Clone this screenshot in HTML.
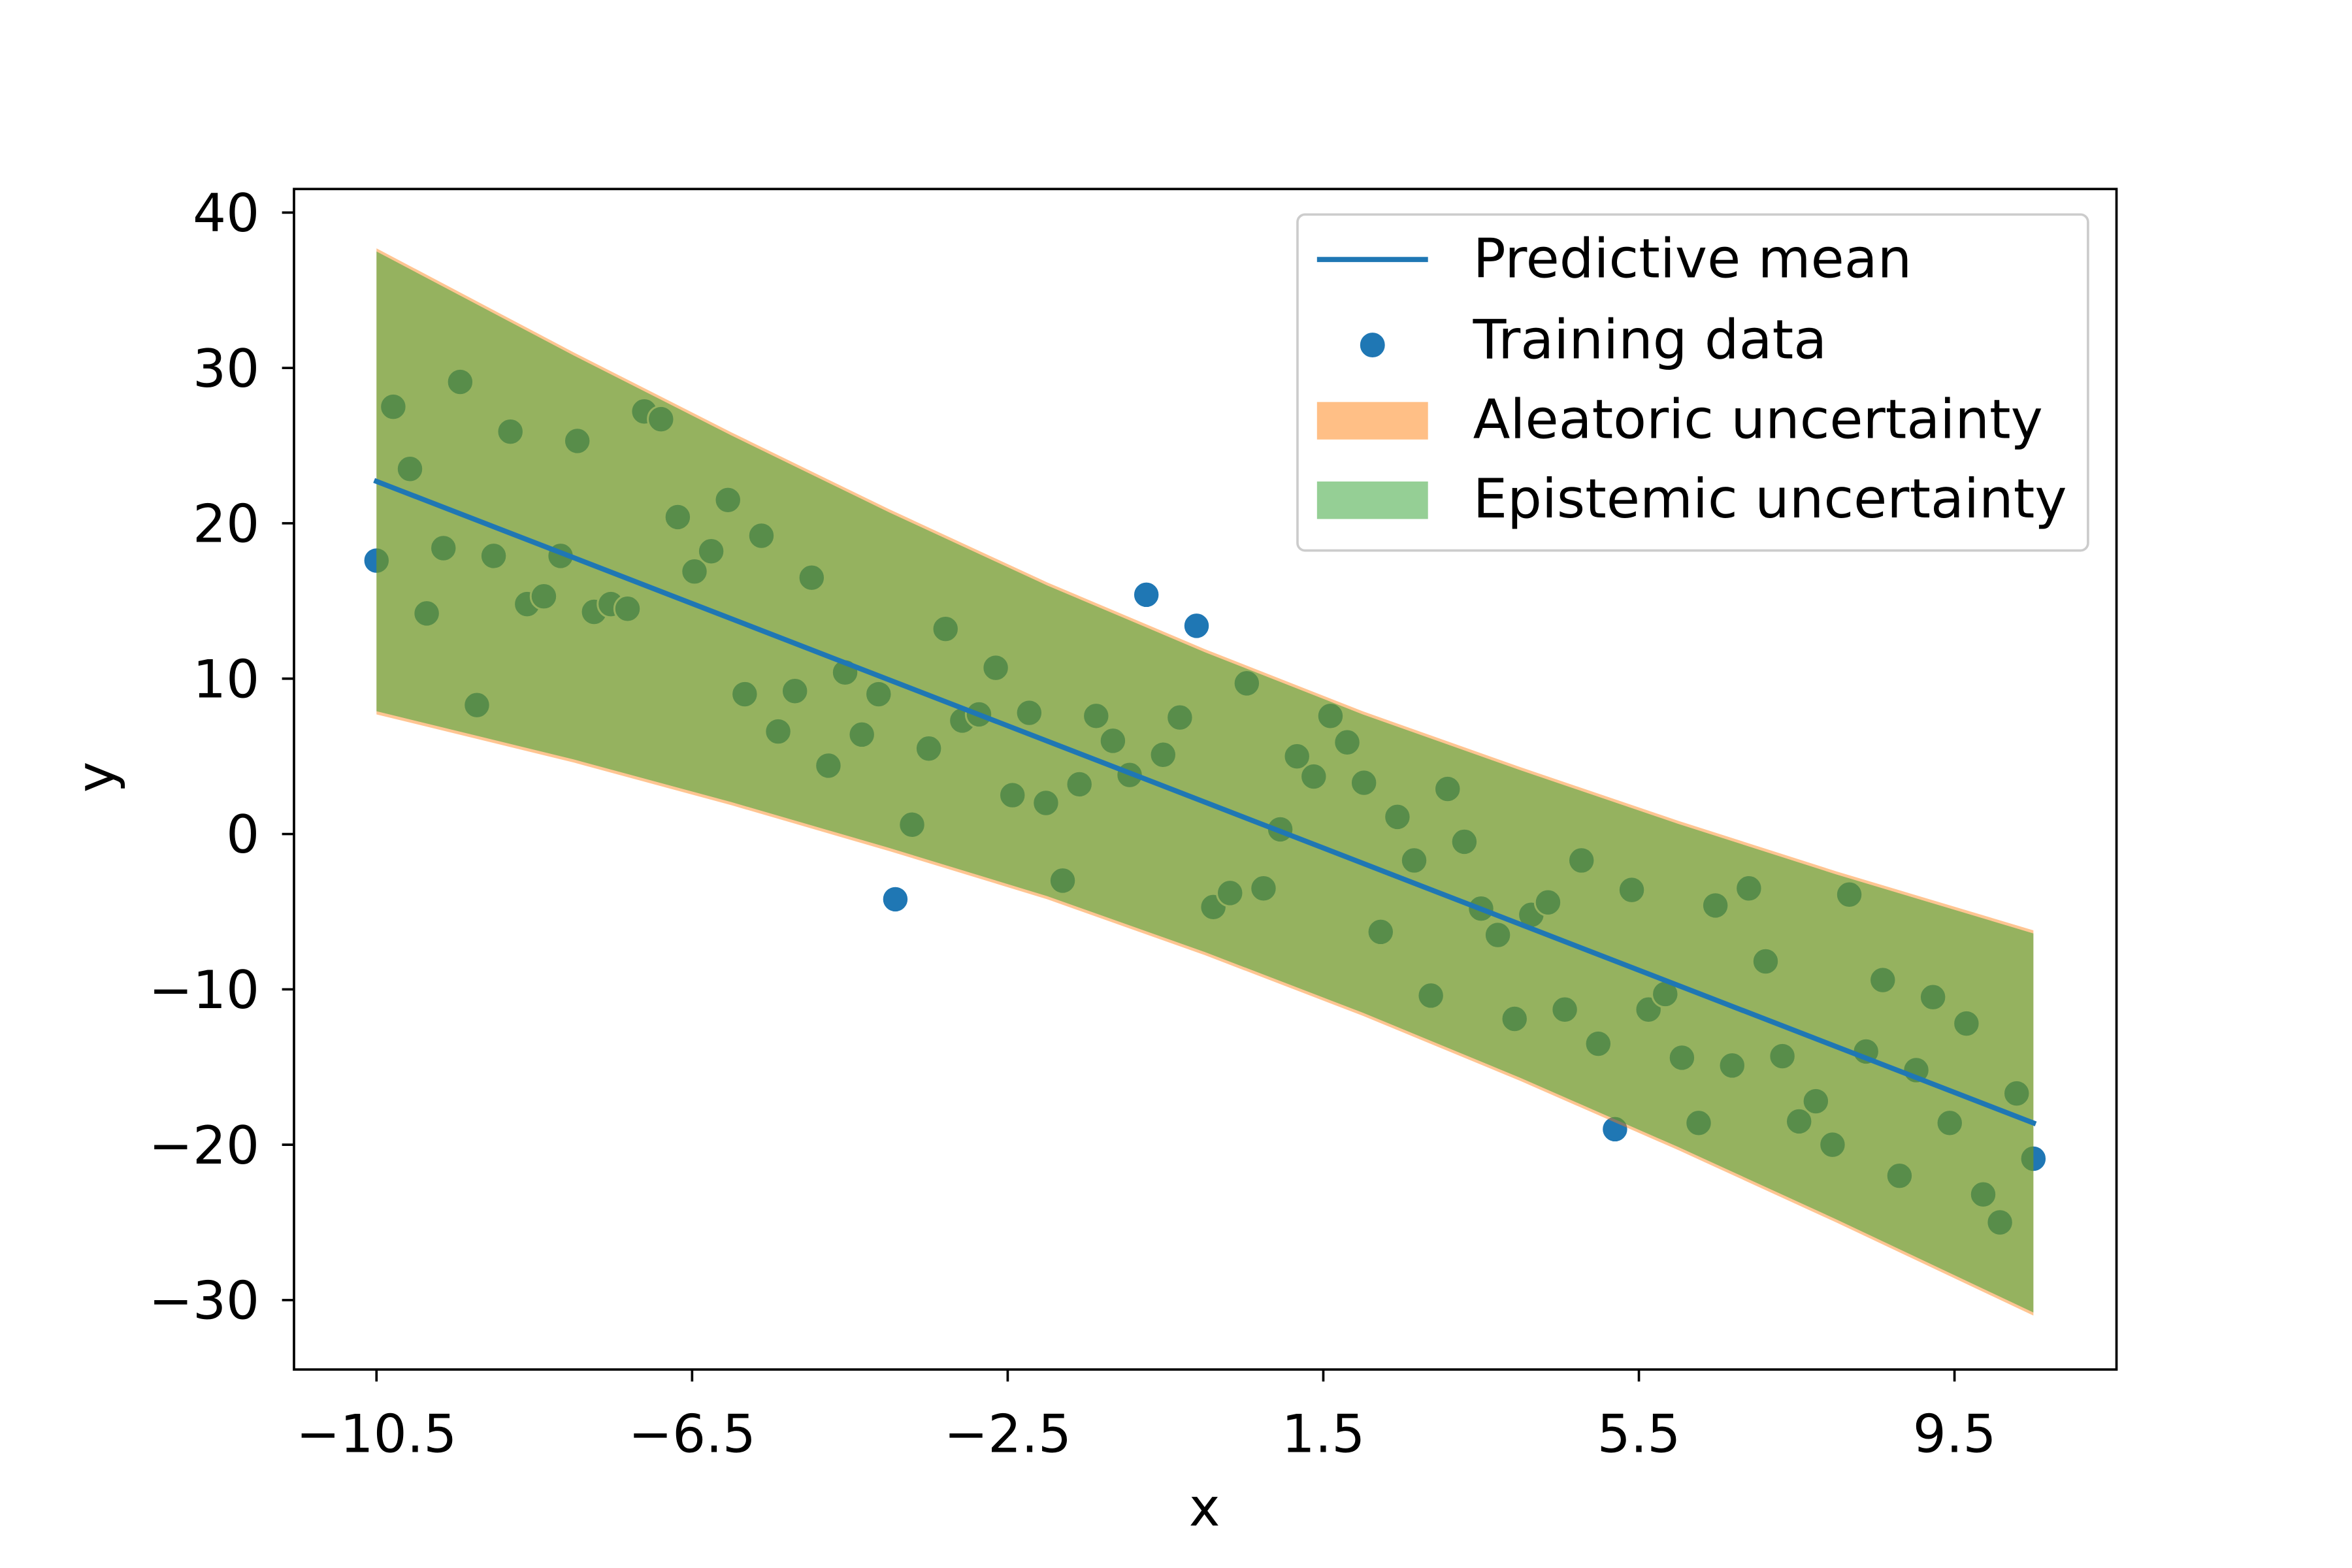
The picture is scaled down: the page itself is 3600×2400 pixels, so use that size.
<!DOCTYPE html>
<html><head><meta charset="utf-8"><style>
html,body{margin:0;padding:0;background:#fff;}
svg{display:block;}
text{font-family:"DejaVu Sans","Liberation Sans",sans-serif;fill:#000;}
</style></head><body>
<svg id="chart" width="3600" height="2400" viewBox="0 0 1568 1045.33" xmlns="http://www.w3.org/2000/svg">
<rect width="1568" height="1046" fill="#fff"/>
<defs><clipPath id="clip"><rect x="196" y="126" width="1215" height="787"/></clipPath></defs>
<g id="plot" clip-path="url(#clip)"></g>
<g id="axes"></g>
<rect x="196" y="126" width="1215" height="787" fill="none" stroke="#000" stroke-width="1.6"/>
<text x="803" y="1017" font-size="35" text-anchor="middle">x</text>
<text x="0" y="0" font-size="35" text-anchor="middle" transform="translate(76,518) rotate(-90)">y</text>
<g>
<rect x="865" y="143" width="527" height="224" rx="5" fill="#fff" fill-opacity="0.8" stroke="#ccc" stroke-width="1.6"/>
<line x1="878" y1="173" x2="952" y2="173" stroke="#1f77b4" stroke-width="3.4"/>
<text x="982" y="185" font-size="36.2">Predictive mean</text>
<circle cx="915" cy="230" r="9" fill="#1f77b4" stroke="#fff" stroke-width="1.5"/>
<text x="982" y="239" font-size="36.2">Training data</text>
<rect x="878" y="268" width="74" height="25" fill="#ffbf86"/>
<text x="982" y="292" font-size="36.2">Aleatoric uncertainty</text>
<rect x="878" y="321" width="74" height="25" fill="#95cf95"/>
<text x="982" y="345" font-size="36.2">Epistemic uncertainty</text>
</g>
</svg>
<script>
const xTicks = [-10.5, -6.5, -2.5, 1.5, 5.5, 9.5];
const yTicks = [40, 30, 20, 10, 0, -10, -20, -30];
const yTickLabels = ["40","30","20","10","0","\u221210","\u221220","\u221230"];
const xTickLabels = ["\u221210.5","\u22126.5","\u22122.5","1.5","5.5","9.5"];
const meanX = [-10.5, 10.5];
const meanY = [22.7, -18.6];
const bandX = [-10.5,-8,-6,-4,-2,0,2,4,6,8,10.5];
const bandUpper = [37.5,30.8,25.65,20.7,16.0,11.7,7.7,4.1,0.65,-2.6,-6.4];
const bandLower = [7.9,4.8,2.05,-0.9,-4.0,-7.6,-11.5,-15.7,-20.15,-24.8,-30.8];
const pointY = [17.6,27.5,23.5,14.2,18.4,29.1,8.3,17.9,25.9,14.8,
15.3,17.9,25.3,14.3,14.8,14.5,27.2,26.7,20.4,16.9,
18.2,21.5,9.0,19.2,6.6,9.2,16.5,4.4,10.4,6.4,
9.0,-4.2,0.6,5.5,13.2,7.3,7.7,10.7,2.5,7.8,
2.0,-3.0,3.2,7.6,6.0,3.8,15.4,5.1,7.5,13.4,
-4.7,-3.8,9.7,-3.5,0.3,5.0,3.7,7.6,5.9,3.3,
-6.3,1.1,-1.7,-10.4,2.9,-0.5,-4.8,-6.5,-11.9,-5.2,
-4.4,-11.3,-1.7,-13.5,-19.0,-3.6,-11.3,-10.3,-14.4,-18.6,
-4.6,-14.9,-3.5,-8.2,-14.3,-18.5,-17.2,-20.0,-3.9,-14.0,
-9.4,-22.0,-15.2,-10.5,-18.6,-12.2,-23.2,-25.0,-16.7,-20.9];
const xMin = -10.5, xMax = 10.5;

const NS = "http://www.w3.org/2000/svg";
function sx(v){ return 251 + (v + 10.5) * 52.6; }
function sy(v){ return 556 - v * 10.357; }
function mk(tag, attrs, parent){
  const e = document.createElementNS(NS, tag);
  for (const k in attrs) e.setAttribute(k, attrs[k]);
  parent.appendChild(e); return e;
}
const plot = document.getElementById('plot');
const axes = document.getElementById('axes');

const n = pointY.length;
pointY.forEach((v, i) => {
  const xv = xMin + (xMax - xMin) * i / (n - 1);
  const c = mk('circle', {cx: sx(xv), cy: sy(v), r: 8.8, fill: '#1f77b4', stroke: '#fff', 'stroke-width': 1.3}, plot);
  
  
});

function bandPath(up, lo, pad){
  let d = '';
  bandX.forEach((x, i) => { d += (i ? 'L' : 'M') + sx(x) + ',' + sy(up[i] + pad) + ' '; });
  for (let i = bandX.length - 1; i >= 0; i--) d += 'L' + sx(bandX[i]) + ',' + sy(lo[i] - pad) + ' ';
  return d + 'Z';
}
const al = mk('path', {d: bandPath(bandUpper, bandLower, 0.2), fill: '#ff7f0e', 'fill-opacity': 0.45}, plot);


const ep = mk('path', {d: bandPath(bandUpper, bandLower, 0), fill: '#2ca02c', 'fill-opacity': 0.5}, plot);



const ml = mk('line', {x1: sx(meanX[0]), y1: sy(meanY[0]), x2: sx(meanX[1]), y2: sy(meanY[1]), stroke: '#1f77b4', 'stroke-width': 3.4, 'stroke-linecap': 'square'}, plot);



xTicks.forEach((t, i) => {
  const tk = mk('line', {x1: sx(t), x2: sx(t), y1: 913, y2: 921, stroke: '#000', 'stroke-width': 1.6}, axes);
  
  
  const lb = mk('text', {x: sx(t), y: 968, 'font-size': 35, 'text-anchor': 'middle'}, axes);
  lb.textContent = xTickLabels[i];
  
  
});
yTicks.forEach((t, i) => {
  const tk = mk('line', {x1: 188, x2: 196, y1: sy(t), y2: sy(t), stroke: '#000', 'stroke-width': 1.6}, axes);
  
  
  const lb = mk('text', {x: 173, y: sy(t) + 12.5, 'font-size': 35, 'text-anchor': 'end'}, axes);
  lb.textContent = yTickLabels[i];
  
  
});
</script>
</body></html>
